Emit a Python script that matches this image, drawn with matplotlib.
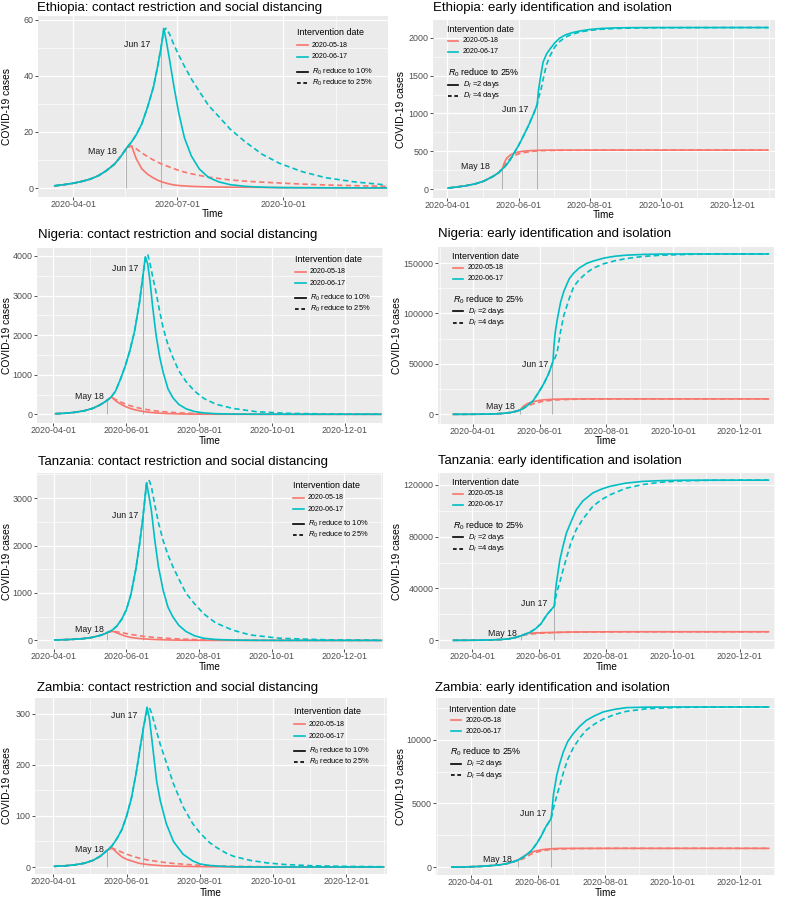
import numpy as np
import matplotlib
matplotlib.use("Agg")
import matplotlib.pyplot as plt
import matplotlib.dates as mdates
from matplotlib.lines import Line2D
from matplotlib.ticker import FuncFormatter

plt.rcParams["font.family"] = ["Liberation Sans", "DejaVu Sans"]
plt.rcParams["mathtext.fontset"] = "custom"
plt.rcParams["mathtext.rm"] = "Liberation Sans"
plt.rcParams["mathtext.it"] = "Liberation Sans:italic"

W, H = 787, 899
RED = "#F8766D"
TEAL = "#00BFC4"
BG = "#EBEBEB"

# ---- data: days since 2020-04-01, cases ----
# contact restriction panels: MAY/JUN = intervention date, 10/25 = R0 reduced to 10% / 25%
# isolation panels: 2/4 = D_I = 2 / 4 days
ETH_CR_DAYS = [-16, -8, 0, 8, 15, 22, 29, 36, 42, 47, 51, 55, 60, 65, 70, 74, 77, 79, 81, 84, 88, 92, 97, 103, 110, 118, 127, 137, 150, 165, 180, 200, 220, 245, 273]
ETH_CR_MAY_10 = [0.8, 1.2, 1.7, 2.4, 3.2, 4.4, 6.2, 8.5, 11.5, 14.5, 15, 10.5, 6.8, 4.9, 3.6, 2.75, 2.25, 2.0, 1.75, 1.42, 1.1, 0.9, 0.75, 0.6, 0.5, 0.4, 0.35, 0.3, 0.25, 0.2, 0.15, 0.12, 0.1, 0.08, 0.05]
ETH_CR_MAY_25 = [0.8, 1.2, 1.7, 2.4, 3.2, 4.4, 6.2, 8.5, 11.5, 14.5, 15, 14, 12.5, 11.2, 10, 9.2, 8.6, 8.3, 8.0, 7.5, 6.9, 6.3, 5.7, 5.1, 4.5, 3.9, 3.4, 2.9, 2.45, 2.1, 1.8, 1.4, 1.1, 0.85, 0.6]
ETH_CR_JUN_10 = [0.8, 1.2, 1.7, 2.4, 3.2, 4.4, 6.2, 8.5, 11.5, 14.5, 16.5, 19, 23, 29, 36, 44, 51, 57, 53, 46, 36, 27, 18, 11.5, 6.8, 3.8, 2.2, 1.2, 0.6, 0.3, 0.15, 0.1, 0.07, 0.05, 0.03]
ETH_CR_JUN_25 = [0.8, 1.2, 1.7, 2.4, 3.2, 4.4, 6.2, 8.5, 11.5, 14.5, 16.5, 19, 23, 29, 36, 44, 51, 56, 57, 55, 51, 47.5, 43.5, 39, 34.5, 29.5, 25.5, 21, 16.5, 12, 8.8, 5.8, 3.7, 2.2, 1.1]
ETH_CR_LINES = [46.5, 77]

ETH_ISO_DAYS = [1, 8, 16, 24, 31, 39, 44, 47, 49, 51, 54, 57, 61, 65, 70, 74, 77, 78, 80, 82, 85, 88, 92, 96, 101, 107, 114, 122, 132, 145, 160, 180, 210, 240, 274]
ETH_ISO_MAY_2 = [13, 26, 43, 68, 102, 165, 215, 262, 350, 410, 450, 472, 490, 500, 507, 510, 512, 512, 513, 513, 514, 514, 514, 515, 515, 515, 515, 515, 515, 515, 515, 515, 515, 515, 515]
ETH_ISO_MAY_4 = [13, 26, 43, 68, 102, 165, 215, 262, 310, 355, 405, 440, 465, 480, 492, 500, 504, 505, 507, 508, 509, 510, 511, 512, 512, 513, 513, 514, 514, 515, 515, 515, 515, 515, 515]
ETH_ISO_JUN_2 = [13, 26, 43, 68, 102, 165, 215, 262, 290, 325, 390, 470, 575, 695, 855, 1000, 1120, 1300, 1500, 1680, 1790, 1855, 1935, 1995, 2040, 2070, 2093, 2112, 2125, 2133, 2136, 2137, 2137, 2137, 2137]
ETH_ISO_JUN_4 = [13, 26, 43, 68, 102, 165, 215, 262, 290, 325, 390, 470, 575, 695, 855, 1000, 1120, 1200, 1300, 1450, 1650, 1765, 1880, 1950, 2010, 2050, 2080, 2100, 2115, 2125, 2131, 2134, 2136, 2137, 2137]
ETH_ISO_LINES = [47, 77]

NGA_CR_DAYS = [2, 10, 18, 26, 33, 39, 44, 47, 49, 52, 56, 60, 64, 68, 72, 75, 77, 79, 81, 83, 86, 89, 92, 96, 100, 105, 111, 118, 126, 136, 150, 170, 195, 230, 274]
NGA_CR_MAY_10 = [15, 27, 50, 90, 150, 235, 330, 400, 430, 345, 265, 200, 152, 116, 89, 73, 64, 56, 49, 43, 35, 29, 24, 18, 14, 10, 6.5, 4, 2.5, 1.2, 0.5, 0, 0, 0, 0]
NGA_CR_MAY_25 = [15, 27, 50, 90, 150, 235, 330, 400, 430, 375, 315, 265, 220, 185, 155, 135, 125, 115, 105, 95, 85, 75, 66, 55, 46, 37, 28, 21, 15, 10, 5, 2, 1, 0, 0]
NGA_CR_JUN_10 = [15, 27, 50, 90, 150, 235, 330, 400, 460, 580, 870, 1200, 1600, 2100, 2800, 3500, 3980, 3800, 3350, 2750, 2000, 1450, 1050, 640, 420, 250, 140, 70, 35, 15, 6, 2, 1, 0, 0]
NGA_CR_JUN_25 = [15, 27, 50, 90, 150, 235, 330, 400, 460, 580, 870, 1200, 1600, 2100, 2800, 3500, 3950, 4040, 3800, 3500, 3080, 2600, 2170, 1750, 1440, 1100, 830, 590, 400, 255, 150, 65, 25, 7, 2]
NGA_CR_LINES = [45.3, 75.3]

NGA_ISO_DAYS = [-18, -9, 0, 10, 20, 28, 35, 40, 43, 46, 50, 55, 61, 65, 69, 73, 74, 75, 77, 80, 83, 88, 92, 97, 104, 110, 120, 130, 140, 155, 171, 200, 240, 270]
NGA_ISO_MAY_2 = [9, 22, 57, 160, 430, 950, 1900, 3200, 4260, 8000, 10800, 12500, 13900, 14400, 14700, 14900, 14950, 15000, 15050, 15100, 15150, 15200, 15200, 15250, 15250, 15300, 15300, 15300, 15300, 15300, 15300, 15300, 15300, 15300]
NGA_ISO_MAY_4 = [9, 22, 57, 160, 430, 950, 1900, 3200, 4260, 6000, 8500, 10400, 12200, 13000, 13600, 14000, 14100, 14200, 14300, 14450, 14600, 14800, 14900, 15000, 15100, 15150, 15200, 15250, 15300, 15300, 15300, 15300, 15300, 15300]
NGA_ISO_JUN_2 = [9, 22, 57, 160, 430, 950, 1900, 3200, 4260, 5900, 8900, 13500, 23500, 31000, 40000, 52000, 68000, 80000, 94000, 111000, 122000, 134500, 140000, 145000, 149700, 152000, 155000, 156800, 157800, 158500, 158900, 159000, 159000, 159000]
NGA_ISO_JUN_4 = [9, 22, 57, 160, 430, 950, 1900, 3200, 4260, 5900, 8900, 13500, 23500, 31000, 40000, 52000, 54000, 56000, 62000, 82000, 98000, 115000, 126500, 133500, 140500, 145000, 149500, 152300, 154400, 156500, 157700, 158700, 159000, 159000]
NGA_ISO_LINES = [42.9, 72.6]

TZA_CR_DAYS = [1, 10, 18, 25, 32, 39, 43, 45, 48, 50, 53, 57, 61, 65, 69, 72, 75, 78, 80, 82, 85, 88, 92, 96, 100, 105, 111, 118, 126, 136, 150, 165, 190, 230, 275]
TZA_CR_MAY_10 = [10, 16, 25, 38, 62, 105, 140, 165, 188, 190, 160, 120, 85, 62, 48, 40, 34, 28, 25, 22, 19, 16, 13, 10, 8, 6, 4, 3, 2, 1, 0, 0, 0, 0, 0]
TZA_CR_MAY_25 = [10, 16, 25, 38, 62, 105, 140, 165, 188, 190, 180, 165, 145, 125, 110, 98, 88, 80, 75, 70, 63, 57, 50, 43, 37, 31, 25, 19, 14, 10, 6, 3, 1, 0, 0]
TZA_CR_JUN_10 = [10, 16, 25, 38, 62, 105, 140, 165, 200, 235, 300, 440, 640, 980, 1500, 2000, 2600, 3320, 3050, 2750, 2100, 1550, 1050, 700, 500, 320, 190, 100, 45, 20, 8, 3, 1, 0, 0]
TZA_CR_JUN_25 = [10, 16, 25, 38, 62, 105, 140, 165, 200, 235, 300, 440, 640, 980, 1500, 2000, 2600, 3300, 3386, 3250, 2850, 2480, 2100, 1800, 1560, 1300, 1000, 780, 560, 370, 220, 115, 45, 12, 3]
TZA_CR_LINES = [45.2, 75.4]

TZA_ISO_DAYS = [-17, -8, 1, 10, 19, 27, 34, 40, 45, 49, 53, 58, 63, 68, 72, 75, 76, 77, 80, 83, 86, 90, 95, 101, 110, 118, 126, 140, 155, 171, 190, 220, 250, 270]
TZA_ISO_MAY_2 = [15, 35, 80, 190, 400, 680, 1250, 2300, 3600, 5100, 5500, 5750, 5900, 6000, 6100, 6150, 6170, 6200, 6250, 6300, 6350, 6400, 6430, 6460, 6500, 6550, 6580, 6600, 6600, 6600, 6600, 6600, 6600, 6600]
TZA_ISO_MAY_4 = [15, 35, 80, 190, 400, 680, 1250, 2300, 3600, 4300, 4800, 5200, 5500, 5700, 5850, 5950, 5980, 6000, 6080, 6150, 6200, 6260, 6320, 6380, 6450, 6500, 6550, 6580, 6600, 6600, 6600, 6600, 6600, 6600]
TZA_ISO_JUN_2 = [15, 35, 80, 190, 400, 680, 1250, 2300, 3600, 4900, 6300, 9000, 13000, 19500, 23500, 26500, 38000, 45000, 62000, 73000, 82800, 91000, 100700, 107500, 113600, 116600, 118800, 121200, 122500, 123100, 123400, 123500, 123500, 123500]
TZA_ISO_JUN_4 = [15, 35, 80, 190, 400, 680, 1250, 2300, 3600, 4900, 6300, 9000, 13000, 19500, 23500, 26500, 32000, 36500, 45000, 54500, 63500, 75000, 85500, 93500, 103300, 108500, 112300, 117200, 120000, 121800, 122900, 123400, 123500, 123500]
TZA_ISO_LINES = [44.8, 74.8]

ZMB_CR_DAYS = [1, 10, 18, 26, 33, 39, 45, 49, 53, 57, 61, 65, 69, 72, 75, 78, 80, 82, 86, 89, 94, 100, 108, 116, 122, 130, 136, 144, 150, 164, 178, 192, 215, 245, 275]
ZMB_CR_MAY_10 = [1.3, 2.4, 4.3, 7.5, 13, 21, 33, 37, 28, 20, 15, 12, 9, 7, 6, 5, 4.5, 4, 3.3, 2.8, 2.2, 1.7, 1.2, 0.9, 0.7, 0.5, 0.4, 0.3, 0.25, 0.2, 0.1, 0.1, 0, 0, 0]
ZMB_CR_MAY_25 = [1.3, 2.4, 4.3, 7.5, 13, 21, 33, 37, 33, 29, 25, 22, 19, 17, 15.5, 14, 13, 12.5, 11, 10, 8.5, 7, 5.5, 4.2, 3.5, 2.7, 2.2, 1.7, 1.4, 0.9, 0.6, 0.4, 0.2, 0.1, 0]
ZMB_CR_JUN_10 = [1.3, 2.4, 4.3, 7.5, 13, 21, 33, 42, 56, 73, 100, 135, 185, 230, 273, 313, 290, 250, 168, 130, 85, 50, 25, 12, 6, 3, 2, 1, 0.5, 0.2, 0, 0, 0, 0, 0]
ZMB_CR_JUN_25 = [1.3, 2.4, 4.3, 7.5, 13, 21, 33, 42, 56, 73, 100, 135, 185, 230, 273, 305, 312, 300, 265, 240, 205, 163, 118, 85, 67, 48, 38, 27, 21, 13, 8, 5, 2.5, 1.2, 0.5]
ZMB_CR_LINES = [45, 75]

ZMB_ISO_DAYS = [-17, -8, 1, 10, 18, 26, 33, 39, 43, 47, 51, 55, 60, 64, 68, 71, 73, 74, 75, 78, 81, 84, 88, 93, 99, 105, 112, 120, 130, 141, 160, 190, 230, 270]
ZMB_ISO_MAY_2 = [15, 28, 50, 80, 130, 190, 295, 440, 570, 800, 1030, 1180, 1300, 1370, 1420, 1440, 1455, 1460, 1465, 1475, 1480, 1485, 1485, 1485, 1485, 1485, 1485, 1485, 1485, 1485, 1485, 1485, 1485, 1485]
ZMB_ISO_MAY_4 = [15, 28, 50, 80, 130, 190, 295, 440, 570, 640, 850, 1040, 1190, 1280, 1340, 1370, 1390, 1400, 1405, 1420, 1435, 1445, 1455, 1462, 1468, 1472, 1476, 1480, 1483, 1485, 1485, 1485, 1485, 1485]
ZMB_ISO_JUN_2 = [15, 28, 50, 80, 130, 190, 295, 440, 570, 760, 1000, 1300, 1875, 2450, 3150, 3550, 3830, 4700, 5650, 7200, 8200, 9040, 9850, 10470, 11050, 11510, 11850, 12160, 12360, 12500, 12540, 12550, 12550, 12550]
ZMB_ISO_JUN_4 = [15, 28, 50, 80, 130, 190, 295, 440, 570, 760, 1000, 1300, 1875, 2450, 3150, 3550, 3830, 4200, 4600, 5600, 6450, 7400, 8450, 9350, 10150, 10750, 11200, 11600, 11950, 12210, 12420, 12520, 12550, 12550]
ZMB_ISO_LINES = [43.2, 73.1]

TITLES = [
    "Ethiopia: contact restriction and social distancing",
    "Ethiopia: early identification and isolation",
    "Nigeria: contact restriction and social distancing",
    "Nigeria: early identification and isolation",
    "Tanzania: contact restriction and social distancing",
    "Tanzania: early identification and isolation",
    "Zambia: contact restriction and social distancing",
    "Zambia: early identification and isolation",
]
DATE_LABELS = ["2020-05-18", "2020-06-17"]
LINE_LABELS = ["May 18", "Jun 17"]
CR_LT_LABELS = [r"$R_0$ reduce to 10%", r"$R_0$ reduce to 25%"]
ISO_LT_TITLE = r"$R_0$ reduce to 25%"
ISO_LT_LABELS = [r"$D_I$ =2 days", r"$D_I$ =4 days"]

QUARTER_TICKS = ["2020-01-01", "2020-04-01", "2020-07-01", "2020-10-01", "2021-01-01"]
BIMONTH_TICKS = ["2020-02-01", "2020-04-01", "2020-06-01", "2020-08-01",
                 "2020-10-01", "2020-12-01", "2021-02-01"]

D0 = mdates.date2num(np.datetime64("2020-04-01"))

# layout, in pixels of the 787x899 figure
# rect = (left, right, top, bottom); lab = right edge / centre y of "May 18" and "Jun 17"
PANELS = [
    dict(days=ETH_CR_DAYS, s=(ETH_CR_MAY_10, ETH_CR_MAY_25, ETH_CR_JUN_10, ETH_CR_JUN_25), lines=ETH_CR_LINES,
         kind="cr", rect=(38, 388, 16, 197), xlim=(-30.6, 274.5), ylim=(-3.2, 61.4), ystep=20, ymax=60,
         ticks=QUARTER_TICKS, leg=(297, 32.7), tpos=(37, 7.5), ylx=7.5, tly=214,
         lab=((117, 151.7), (150.7, 44.3))),
    dict(days=ETH_ISO_DAYS, s=(ETH_ISO_MAY_2, ETH_ISO_MAY_4, ETH_ISO_JUN_2, ETH_ISO_JUN_4), lines=ETH_ISO_LINES,
         kind="iso", rect=(433, 775, 20, 198), xlim=(-12, 280), ylim=(-119, 2237), ystep=500, ymax=2000,
         ticks=BIMONTH_TICKS, leg=(446.5, 30), tpos=(433, 7.5), ylx=401, tly=214.5,
         lab=((489.7, 166.7), (528, 110))),
    dict(days=NGA_CR_DAYS, s=(NGA_CR_MAY_10, NGA_CR_MAY_25, NGA_CR_JUN_10, NGA_CR_JUN_25), lines=NGA_CR_LINES,
         kind="cr", rect=(37, 383, 248, 423), xlim=(-13.6, 275.8), ylim=(-220, 4202), ystep=1000, ymax=4000,
         ticks=BIMONTH_TICKS, leg=(295, 259), tpos=(38, 235), ylx=7, tly=440.5,
         lab=((104.3, 396.7), (138.3, 268.3))),
    dict(days=NGA_ISO_DAYS, s=(NGA_ISO_MAY_2, NGA_ISO_MAY_4, NGA_ISO_JUN_2, NGA_ISO_JUN_4), lines=NGA_ISO_LINES,
         kind="iso", rect=(438, 774, 247, 424), xlim=(-32, 275.1), ylim=(-9600, 165900), ystep=50000, ymax=150000,
         ticks=BIMONTH_TICKS, leg=(451.5, 256.7), tpos=(438, 234.5), ylx=397, tly=440.5,
         lab=((514.7, 406.7), (548, 364.3))),
    dict(days=TZA_CR_DAYS, s=(TZA_CR_MAY_10, TZA_CR_MAY_25, TZA_CR_JUN_10, TZA_CR_JUN_25), lines=TZA_CR_LINES,
         kind="cr", rect=(37, 383, 473, 649), xlim=(-13.9, 276.4), ylim=(-181, 3529), ystep=1000, ymax=3000,
         ticks=BIMONTH_TICKS, leg=(293, 485), tpos=(38, 461.7), ylx=7, tly=667.5,
         lab=((104.3, 630), (138.3, 515.7))),
    dict(days=TZA_ISO_DAYS, s=(TZA_ISO_MAY_2, TZA_ISO_MAY_4, TZA_ISO_JUN_2, TZA_ISO_JUN_4), lines=TZA_ISO_LINES,
         kind="iso", rect=(438, 775, 473, 649), xlim=(-31, 276), ylim=(-6680, 129000), ystep=40000, ymax=120000,
         ticks=BIMONTH_TICKS, leg=(451.5, 482.7), tpos=(438, 460.7), ylx=397, tly=667.5,
         lab=((517.3, 633.3), (547.3, 603.3))),
    dict(days=ZMB_CR_DAYS, s=(ZMB_CR_MAY_10, ZMB_CR_MAY_25, ZMB_CR_JUN_10, ZMB_CR_JUN_25), lines=ZMB_CR_LINES,
         kind="cr", rect=(35, 387, 698, 874), xlim=(-15.3, 277.8), ylim=(-13.7, 331), ystep=100, ymax=300,
         ticks=BIMONTH_TICKS, leg=(294, 711.7), tpos=(37, 687.7), ylx=7.5, tly=893.5,
         lab=((104.3, 850), (137.7, 715))),
    dict(days=ZMB_ISO_DAYS, s=(ZMB_ISO_MAY_2, ZMB_ISO_MAY_4, ZMB_ISO_JUN_2, ZMB_ISO_JUN_4), lines=ZMB_ISO_LINES,
         kind="iso", rect=(436, 775, 698, 875), xlim=(-31.3, 275.7), ylim=(-600, 13255), ystep=5000, ymax=10000,
         ticks=BIMONTH_TICKS, leg=(449, 709.3), tpos=(434.7, 687.7), ylx=401, tly=893.5,
         lab=((512.3, 859.3), (546.3, 813.3))),
]

LW = 1.2
DASH = (3.2, 2.0)

fig = plt.figure(figsize=(W / 100, H / 100), dpi=100)


def fx(px):
    return px / W


def fy(py):
    return 1 - py / H


def key_line(x0, x1, y, color, dashed=False):
    ln = Line2D([fx(x0), fx(x1)], [fy(y), fy(y)], transform=fig.transFigure,
                color=color, lw=LW)
    if dashed:
        ln.set_dashes((2.2, 1.6))
    fig.add_artist(ln)


def draw_legend(kind, lx, ty):
    fig.text(fx(lx), fy(ty), "Intervention date", fontsize=6.4, ha="left", va="center")
    if kind == "cr":
        k0, k1, tx = lx, lx + 11, lx + 15
        rows = [ty + 12.7, ty + 24.3, ty + 38.8, ty + 50.2]
    else:
        k0, k1, tx = lx + 1.5, lx + 11.5, lx + 16.5
        rows = [ty + 11, ty + 21.8, ty + 54.5, ty + 65.8]
        fig.text(fx(lx + 1.5), fy(ty + 42.7), ISO_LT_TITLE, fontsize=6.4, ha="left", va="center")
    lt_labels = CR_LT_LABELS if kind == "cr" else ISO_LT_LABELS
    for y, col, lab in zip(rows[:2], [RED, TEAL], DATE_LABELS):
        key_line(k0, k1, y, col)
        fig.text(fx(tx), fy(y), lab, fontsize=5.0, ha="left", va="center")
    for y, dashed, lab in zip(rows[2:], [False, True], lt_labels):
        key_line(k0, k1, y, "black", dashed)
        fig.text(fx(tx), fy(y), lab, fontsize=5.4, ha="left", va="center")


for title, p in zip(TITLES, PANELS):
    l, r, t, b = p["rect"]
    ax = fig.add_axes([fx(l), fy(b), (r - l) / W, (b - t) / H])
    ax.set_facecolor(BG)
    for sp in ax.spines.values():
        sp.set_visible(False)

    days = np.asarray(p["days"], float)
    x = D0 + days
    may_s, may_d, jun_s, jun_d = [np.asarray(v, float) for v in p["s"]]

    # grey marker lines at the intervention dates, up to the curve
    for d in p["lines"]:
        top = np.interp(d, days, jun_s)
        ax.vlines(D0 + d, 0, top, color="#B0B0B0", lw=0.7, zorder=2)
    for (lx, ly), lab in zip(p["lab"], LINE_LABELS):
        fig.text(fx(lx), fy(ly), lab, fontsize=6.3, color="#1A1A1A", ha="right", va="center")

    ax.plot(x, may_d, color=RED, lw=LW, dashes=DASH, zorder=3)
    ax.plot(x, may_s, color=RED, lw=LW, zorder=3)
    ax.plot(x, jun_d, color=TEAL, lw=LW, dashes=DASH, zorder=4)
    ax.plot(x, jun_s, color=TEAL, lw=LW, zorder=4)

    # axes, ticks, grid
    majors = mdates.date2num(np.array(p["ticks"], dtype="datetime64[D]"))
    minors = (majors[:-1] + majors[1:]) / 2
    ax.set_xticks(majors)
    ax.set_xticks(minors, minor=True)
    ax.xaxis.set_major_formatter(mdates.DateFormatter("%Y-%m-%d"))
    ax.set_xlim(D0 + p["xlim"][0], D0 + p["xlim"][1])

    st = p["ystep"]
    ax.set_yticks(np.arange(0, p["ymax"] + st / 2, st))
    ax.set_yticks(np.arange(-st / 2, p["ymax"] + st, st), minor=True)
    ax.yaxis.set_major_formatter(FuncFormatter(lambda v, pos: f"{v:.0f}"))
    ax.set_ylim(*p["ylim"])

    ax.grid(which="major", color="white", lw=0.9)
    ax.grid(which="minor", color="white", lw=0.45)
    ax.set_axisbelow(True)
    ax.tick_params(which="major", length=2.0, width=0.6, color="#333333",
                   labelsize=6.4, labelcolor="#4D4D4D")
    ax.tick_params(axis="x", which="major", pad=0.1)
    ax.tick_params(axis="y", which="major", pad=1.2)
    ax.tick_params(which="minor", length=0)

    # texts
    fig.text(fx(p["tpos"][0]), fy(p["tpos"][1]), title, fontsize=9.5, ha="left", va="center")
    fig.text(fx((l + r) / 2), fy(p["tly"]), "Time", fontsize=7.2, ha="center", va="center")
    fig.text(fx(p["ylx"]), fy((t + b) / 2), "COVID-19 cases", fontsize=7.4,
             rotation=90, ha="center", va="center")
    draw_legend(p["kind"], *p["leg"])

fig.savefig("out.png", dpi=100)
